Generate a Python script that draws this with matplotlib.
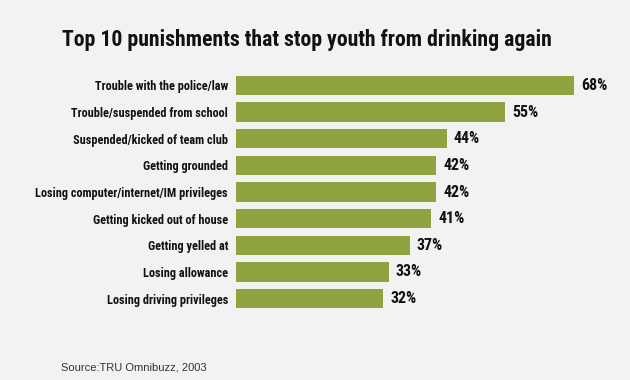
import matplotlib
matplotlib.use("Agg")
import matplotlib.pyplot as plt

categories = [
    "Trouble with the police/law",
    "Trouble/suspended from school",
    "Suspended/kicked of team club",
    "Getting grounded",
    "Losing computer/internet/IM privileges",
    "Getting kicked out of house",
    "Getting yelled at",
    "Losing allowance",
    "Losing driving privileges",
]
values = [68, 55, 44, 42, 42, 41, 37, 33, 32]
value_labels = [f"{v}%" for v in values]

title = "Top 10 punishments that stop youth from drinking again"
source = "Source:TRU Omnibuzz, 2003"

BG = "#f2f2f2"
BAR = "#8fa33e"
LABEL_FONT = ["Roboto Condensed", "DejaVu Sans"]
VALUE_FONT = ["Roboto Condensed", "DejaVu Sans"]

fig = plt.figure(figsize=(6.3, 3.8), dpi=100, facecolor=BG)
ax = fig.add_axes([236 / 630, (380 - 312) / 380, 1 - 236 / 630, 240 / 380])
ax.set_facecolor(BG)

y = list(range(len(categories)))
ax.barh(y, values, height=0.72, color=BAR, edgecolor="none")
ax.set_xlim(4.2, 78.5)
ax.set_ylim(len(categories) - 0.5, -0.5)

ax.set_yticks(y)
ax.set_yticklabels(categories, family=LABEL_FONT, fontweight="bold", fontsize=8.8, color="#111111")
ax.tick_params(axis="y", length=0, pad=5.8)
ax.set_xticks([])
for s in ax.spines.values():
    s.set_visible(False)

for yi, v, lab in zip(y, values, value_labels):
    ax.annotate(lab, xy=(v, yi), xytext=(5, 0), textcoords="offset points",
                va="center", ha="left", family=VALUE_FONT, fontweight="bold",
                fontsize=11.5, color="#111111")

fig.text(307 / 630, 1 - 40 / 380, title, ha="center", va="center",
         family=LABEL_FONT, fontweight="bold", fontsize=15.7, color="#111111")
fig.text(61 / 630, 1 - 367 / 380, source, ha="left", va="center",
         family=["Liberation Sans", "DejaVu Sans"], fontsize=8, color="#333333")

fig.savefig("out.png", dpi=100, facecolor=BG)
